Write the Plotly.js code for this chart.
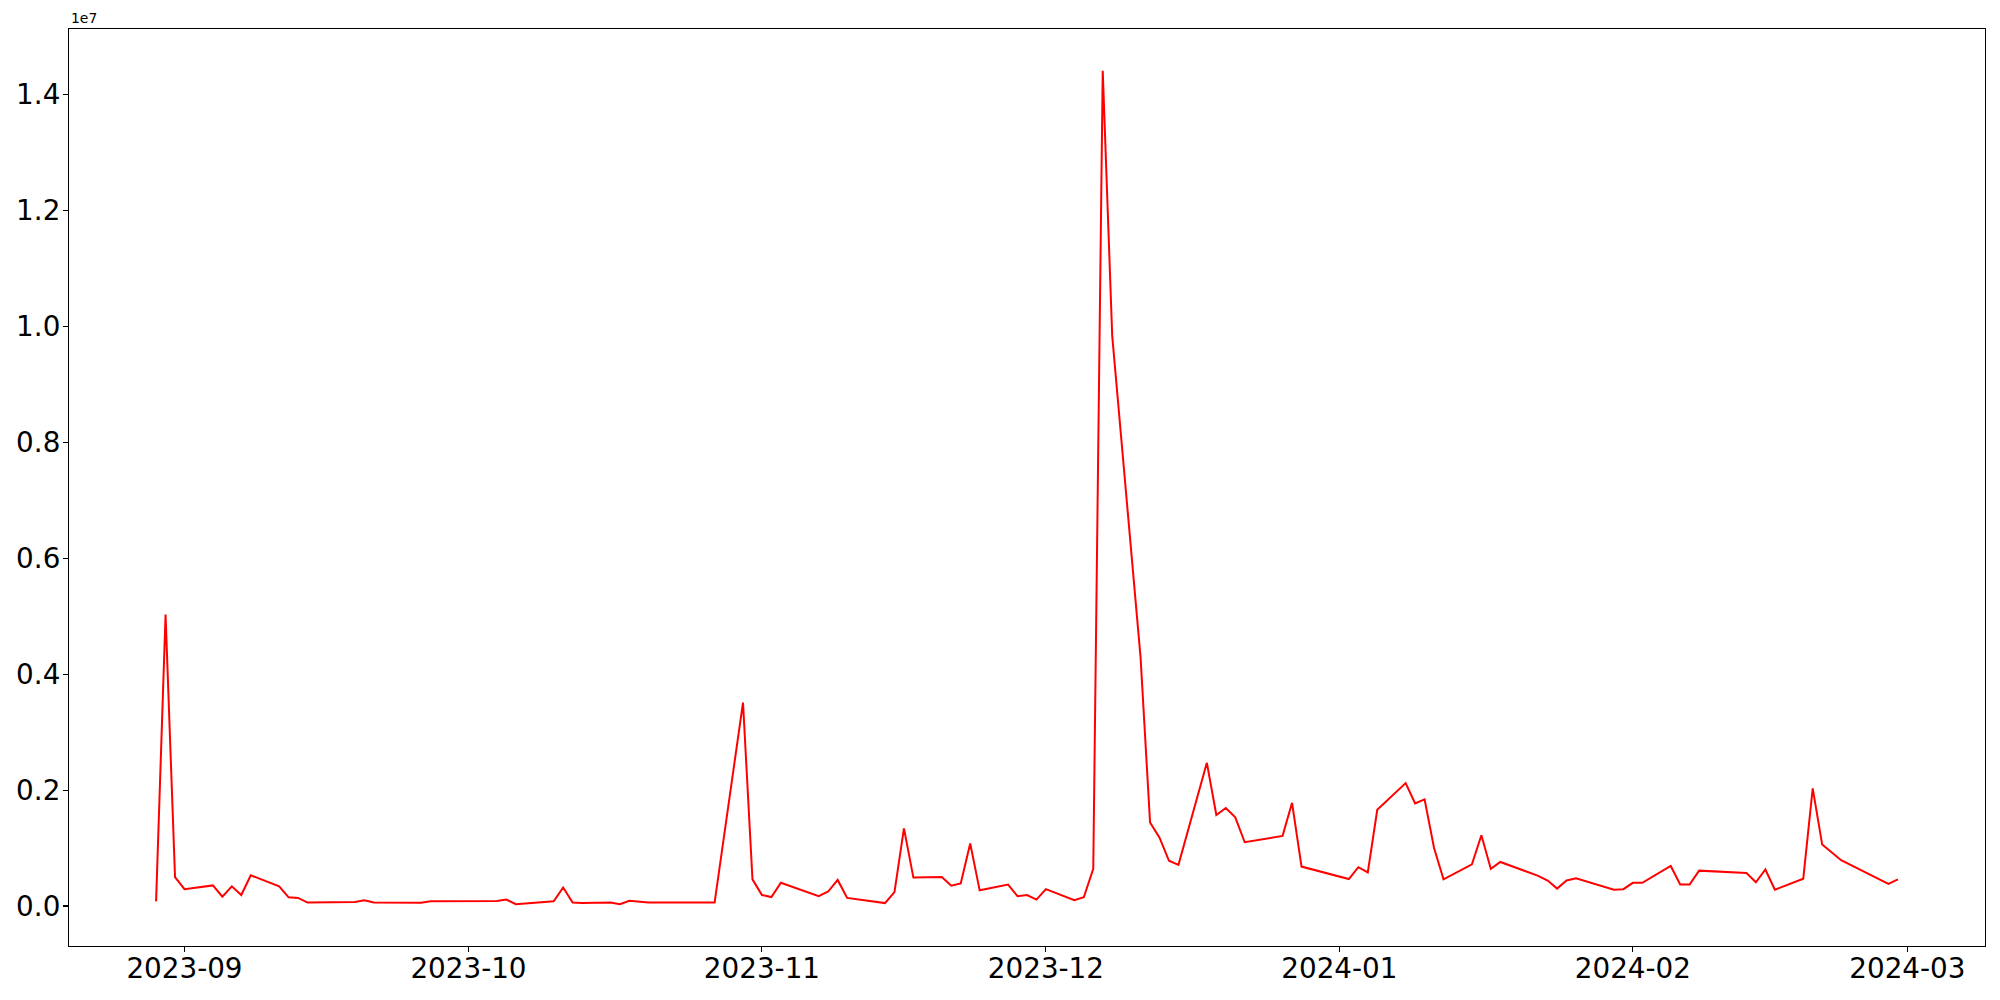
<!DOCTYPE html>
<html>
<head>
<meta charset="utf-8">
<script src="https://cdn.plot.ly/plotly-3.0.1.min.js"></script>
<style>html,body{margin:0;padding:0;background:#fff;}#chart{width:2000px;height:1000px;}</style>
</head>
<body>
<div id="chart"></div>
<script>
const dates = [
 '2023-08-29','2023-08-30','2023-08-31','2023-09-01','2023-09-04','2023-09-05','2023-09-06','2023-09-07','2023-09-08',
 '2023-09-11','2023-09-12','2023-09-13','2023-09-14','2023-09-19','2023-09-20','2023-09-21','2023-09-26','2023-09-27',
 '2023-10-04','2023-10-05','2023-10-06','2023-10-10','2023-10-11','2023-10-12','2023-10-13','2023-10-16','2023-10-17',
 '2023-10-18','2023-10-20','2023-10-24','2023-10-25','2023-10-27','2023-10-30','2023-10-31','2023-11-01','2023-11-02',
 '2023-11-03','2023-11-07','2023-11-08','2023-11-09','2023-11-10','2023-11-14','2023-11-15','2023-11-16','2023-11-17',
 '2023-11-20','2023-11-21','2023-11-22','2023-11-23','2023-11-24','2023-11-27','2023-11-28','2023-11-29','2023-11-30',
 '2023-12-01','2023-12-04','2023-12-05','2023-12-06','2023-12-07','2023-12-08','2023-12-11','2023-12-12','2023-12-13',
 '2023-12-14','2023-12-15','2023-12-18','2023-12-19','2023-12-20','2023-12-21','2023-12-22','2023-12-26','2023-12-27',
 '2023-12-28','2024-01-02','2024-01-03','2024-01-04','2024-01-05','2024-01-08','2024-01-09','2024-01-10','2024-01-11',
 '2024-01-12','2024-01-15','2024-01-16','2024-01-17','2024-01-18','2024-01-22','2024-01-23','2024-01-24','2024-01-25',
 '2024-01-26','2024-01-30','2024-01-31','2024-02-01','2024-02-02','2024-02-05','2024-02-06','2024-02-07','2024-02-08',
 '2024-02-13','2024-02-14','2024-02-15','2024-02-16','2024-02-19','2024-02-20','2024-02-21','2024-02-23','2024-02-28',
 '2024-02-29'
];
const values = [
 80000,5030000,500000,290000,355000,160000,340000,190000,530000,
 340000,150000,140000,60000,70000,100000,60000,55000,80000,
 85000,110000,30000,80000,320000,60000,50000,60000,30000,
 90000,60000,55000,60000,60000,3510000,460000,190000,155000,
 400000,170000,250000,450000,140000,50000,240000,1340000,490000,
 500000,350000,390000,1080000,270000,370000,170000,190000,110000,
 290000,100000,150000,640000,14410000,9840000,4280000,1440000,1180000,
 780000,710000,2470000,1570000,1690000,1530000,1100000,1210000,1780000,
 680000,465000,670000,580000,1660000,2120000,1770000,1840000,1000000,
 460000,720000,1220000,640000,760000,520000,440000,300000,440000,
 480000,280000,290000,400000,400000,690000,370000,370000,610000,
 570000,410000,630000,280000,470000,2030000,1060000,790000,380000,
 460000
];
const xTickVals = ['2023-09-01','2023-10-01','2023-11-01','2023-12-01','2024-01-01','2024-02-01','2024-03-01'];
const xTickText = ['2023-09','2023-10','2023-11','2023-12','2024-01','2024-02','2024-03'];
const yTickVals = [0,2000000,4000000,6000000,8000000,10000000,12000000,14000000];
const yTickText = ['0.0','0.2','0.4','0.6','0.8','1.0','1.2','1.4'];
const offsetText = '1e7';

const font = 'DejaVu Sans, Liberation Sans, sans-serif';
const trace = {
  x: dates, y: values, type: 'scatter', mode: 'lines',
  line: {color: '#ff0000', width: 2}, hoverinfo: 'x+y'
};
const layout = {
  width: 2000, height: 1000,
  paper_bgcolor: '#ffffff', plot_bgcolor: '#ffffff',
  margin: {l: 69, r: 15, t: 29, b: 54, pad: 0},
  showlegend: false,
  font: {family: font, color: '#000000'},
  xaxis: {
    type: 'date',
    range: ['2023-08-19 19:12', '2024-03-09 04:48'],
    tickmode: 'array', tickvals: xTickVals, ticktext: xTickText,
    tickfont: {size: 27.8, family: font, color: '#000'},
    ticks: 'outside', ticklen: 5, tickwidth: 1.1, tickcolor: '#000',
    showgrid: false, zeroline: false,
    showline: true, linecolor: '#000', linewidth: 1.1, mirror: true,
    ticklabelstandoff: -7
  },
  yaxis: {
    range: [-690000, 15130000],
    tickmode: 'array', tickvals: yTickVals, ticktext: yTickText,
    tickfont: {size: 27.8, family: font, color: '#000'},
    ticks: 'outside', ticklen: 5, tickwidth: 1.1, tickcolor: '#000',
    showgrid: false, zeroline: false,
    showline: true, linecolor: '#000', linewidth: 1.1, mirror: true,
    ticklabelstandoff: -3
  },
  annotations: [{
    text: offsetText, xref: 'paper', yref: 'paper', x: 0, y: 1,
    xanchor: 'left', yanchor: 'bottom', showarrow: false, yshift: 1,
    font: {size: 13.9, family: font, color: '#000'}
  }]
};
Plotly.newPlot('chart', [trace], layout, {displayModeBar: false, staticPlot: true});
</script>
</body>
</html>
